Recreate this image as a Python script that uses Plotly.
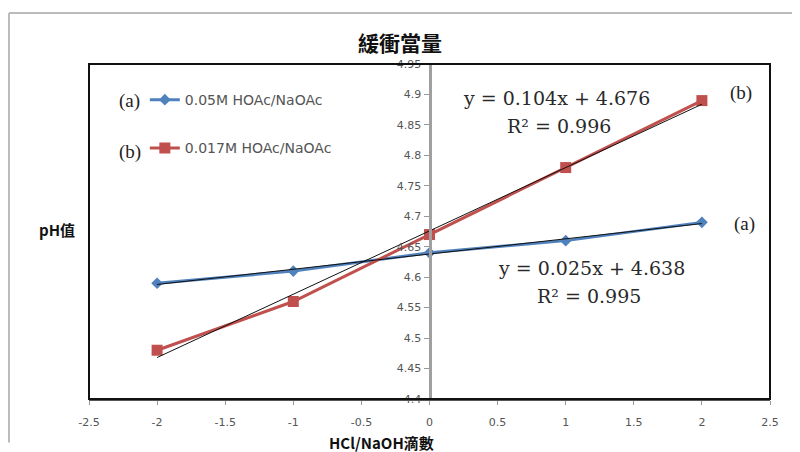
import numpy as np
import plotly.graph_objects as go

# ---- data ----
drops = [-2, -1, 0, 1, 2]
ph_a = [4.59, 4.61, 4.64, 4.66, 4.69]   # 0.05M HOAc/NaOAc
ph_b = [4.48, 4.56, 4.67, 4.78, 4.89]   # 0.017M HOAc/NaOAc
name_a = "0.05M HOAc/NaOAc"
name_b = "0.017M HOAc/NaOAc"
eq_a = ["y = 0.025x + 4.638", "R² = 0.995"]
eq_b = ["y = 0.104x + 4.676", "R² = 0.996"]
x_ticks = [-2.5, -2, -1.5, -1, -0.5, 0, 0.5, 1, 1.5, 2, 2.5]
y_ticks = [4.4, 4.45, 4.5, 4.55, 4.6, 4.65, 4.7, 4.75, 4.8, 4.85, 4.9, 4.95]

BLUE = "#4F81BD"
RED = "#C0504D"

ka, ba = np.polyfit(drops, ph_a, 1)
kb, bb = np.polyfit(drops, ph_b, 1)
xfit = [min(drops), max(drops)]

fig = go.Figure()
fig.add_trace(go.Scatter(x=drops, y=ph_a, mode="lines+markers", name=name_a,
                         line=dict(color=BLUE, width=3),
                         marker=dict(symbol="diamond", size=9, color=BLUE),
                         legendgroup="a"))
fig.add_trace(go.Scatter(x=drops, y=ph_b, mode="lines+markers", name=name_b,
                         line=dict(color=RED, width=3),
                         marker=dict(symbol="square", size=11, color=RED),
                         legendgroup="b"))
fig.add_trace(go.Scatter(x=xfit, y=[ka * v + ba for v in xfit], mode="lines",
                         line=dict(color="#111111", width=1), showlegend=False, hoverinfo="skip"))
fig.add_trace(go.Scatter(x=xfit, y=[kb * v + bb for v in xfit], mode="lines",
                         line=dict(color="#111111", width=1), showlegend=False, hoverinfo="skip"))

tick_font = dict(family="DejaVu Sans", size=11, color="#555555")
eq_font = dict(family="DejaVu Serif", size=19, color="#2a2a2a")
lab_font = dict(family="Liberation Serif", size=19, color="#222222")

# page body has an 8px margin, so margins are shifted to keep the plot area at 89..770 x 64..399
fig.update_layout(
    width=800, height=452,
    margin=dict(l=81, r=38, t=56, b=61),
    paper_bgcolor="white", plot_bgcolor="white",
    showlegend=True,
    legend=dict(x=0.082, y=0.94, xanchor="left", yanchor="top",
                font=dict(family="DejaVu Sans", size=14, color="#555555"),
                tracegroupgap=27, bgcolor="rgba(0,0,0,0)"),
    xaxis=dict(range=[-2.5, 2.5], tickvals=x_ticks, ticktext=[f"{v:g}" for v in x_ticks],
               showgrid=False, zeroline=False, showline=True, linecolor="#555555", linewidth=2,
               ticks="outside", ticklen=4, tickcolor="#999999", tickfont=tick_font,
               ticklabelstandoff=8),
    yaxis=dict(range=[4.3999, 4.9501], tickvals=y_ticks, ticktext=[f"{v:g}" for v in y_ticks],
               anchor="free", position=0.5,
               showgrid=False, zeroline=False, showline=True, linecolor="#A0A0A0", linewidth=3,
               ticks="outside", ticklen=5, tickcolor="#999999", tickfont=tick_font),
)

# frame of plot area and outer chart border
fig.add_shape(type="rect", xref="paper", yref="paper", x0=0, y0=0, x1=1, y1=1,
              line=dict(color="#111111", width=2), layer="above")
fig.add_shape(type="line", xref="paper", yref="paper", x0=-0.1175, x1=1.1, y0=1.152, y1=1.152,
              line=dict(color="#BBBBBB", width=2))
fig.add_shape(type="line", xref="paper", yref="paper", x0=-0.1175, x1=-0.1175, y0=1.152, y1=-0.13,
              line=dict(color="#BBBBBB", width=2))

ann = [
    dict(text="<b>緩衝當量</b>", xref="paper", yref="paper", x=0.457, y=1.066,
         font=dict(family="Noto Sans CJK TC", size=21, color="#111111")),
    dict(text="<b>pH值</b>", xref="paper", yref="paper", x=-0.047, y=0.507,
         font=dict(family="Noto Sans CJK TC", size=15, color="#111111")),
    dict(text="<b>HCl/NaOH滴數</b>", xref="paper", yref="paper", x=0.429, y=-0.13,
         font=dict(family="Noto Sans CJK TC", size=15, color="#111111")),
    dict(text="(a)", xref="paper", yref="paper", x=0.06, y=0.89, font=lab_font),
    dict(text="(b)", xref="paper", yref="paper", x=0.06, y=0.737, font=lab_font),
    dict(text="(b)", x=2.29, y=4.902, font=lab_font),
    dict(text="(a)", x=2.31, y=4.687, font=lab_font),
    dict(text=eq_b[0], x=0.93, y=4.894, font=eq_font),
    dict(text=eq_b[1], x=0.95, y=4.848, font=eq_font),
    dict(text=eq_a[0], x=1.19, y=4.615, font=eq_font),
    dict(text=eq_a[1], x=1.17, y=4.569, font=eq_font),
]
for a in ann:
    a.setdefault("xref", "x")
    a.setdefault("yref", "y")
    a["showarrow"] = False
    a["xanchor"] = "center"
    a["yanchor"] = "middle"
    fig.add_annotation(**a)

fig.write_html("out.html")
